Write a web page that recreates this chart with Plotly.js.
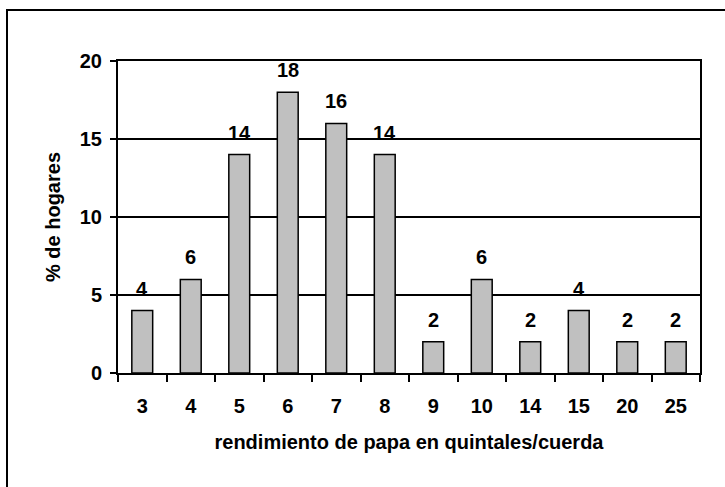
<!DOCTYPE html>
<html>
<head>
<meta charset="utf-8">
<script src="https://cdn.plot.ly/plotly-3.0.1.min.js"></script>
<style>
  html, body { margin: 0; padding: 0; background: #fff; }
  #wrap { position: relative; width: 725px; height: 487px; overflow: hidden; }
  #frame { position: absolute; left: 6px; top: 9px; width: 800px; height: 600px; border: 2px solid #000; box-sizing: border-box; pointer-events: none; }
  #chart { position: absolute; left: 0; top: 0; width: 725px; height: 487px; }
</style>
</head>
<body>
<div id="wrap">
  <div id="chart"></div>
  <div id="frame"></div>
</div>
<script>
const categories = ['3', '4', '5', '6', '7', '8', '9', '10', '14', '15', '20', '25'];
const values = [4, 6, 14, 18, 16, 14, 2, 6, 2, 4, 2, 2];
const yTicks = [0, 5, 10, 15, 20];
const xTitle = 'rendimiento de papa en quintales/cuerda';
const yTitle = '% de hogares';

const fam = 'Liberation Sans, Arial, sans-serif';
const boldFont = { family: fam, size: 20, color: '#000', weight: 'bold' };

const trace = {
  type: 'bar',
  x: categories,
  y: values,
  marker: { color: '#c0c0c0', line: { color: '#000', width: 1.5 } },
  hoverinfo: 'skip'
};

const annotations = categories.map((c, i) => ({
  x: i, y: values[i], xref: 'x', yref: 'y',
  text: String(values[i]),
  showarrow: false, yanchor: 'middle', yshift: 22,
  font: boldFont
}));

const layout = {
  width: 725, height: 487,
  margin: { l: 118, r: 25, t: 61, b: 114 },
  paper_bgcolor: 'rgba(0,0,0,0)',
  plot_bgcolor: '#fff',
  showlegend: false,
  bargap: 0.57,
  font: boldFont,
  xaxis: {
    type: 'category',
    range: [-0.5, categories.length - 0.5],
    autorange: false,
    tickangle: 0,
    showline: true, linecolor: '#000', linewidth: 2, mirror: true,
    ticks: 'outside', tickson: 'boundaries', ticklen: 7, tickwidth: 2, tickcolor: '#000',
    ticklabelstandoff: 14,
    showgrid: false,
    tickfont: boldFont,
    title: { text: xTitle, standoff: 19, font: boldFont }
  },
  yaxis: {
    range: [0, 20],
    autorange: false,
    tickvals: yTicks,
    showline: true, linecolor: '#000', linewidth: 2, mirror: true,
    ticks: 'outside', ticklen: 6, tickwidth: 2, tickcolor: '#000',
    ticklabelstandoff: 4,
    showgrid: true, gridcolor: '#000', gridwidth: 2,
    zeroline: false,
    tickfont: boldFont,
    title: { text: yTitle, standoff: 14, font: boldFont }
  },
  annotations: annotations
};

Plotly.newPlot('chart', [trace], layout, { staticPlot: true, displayModeBar: false });
</script>
</body>
</html>
